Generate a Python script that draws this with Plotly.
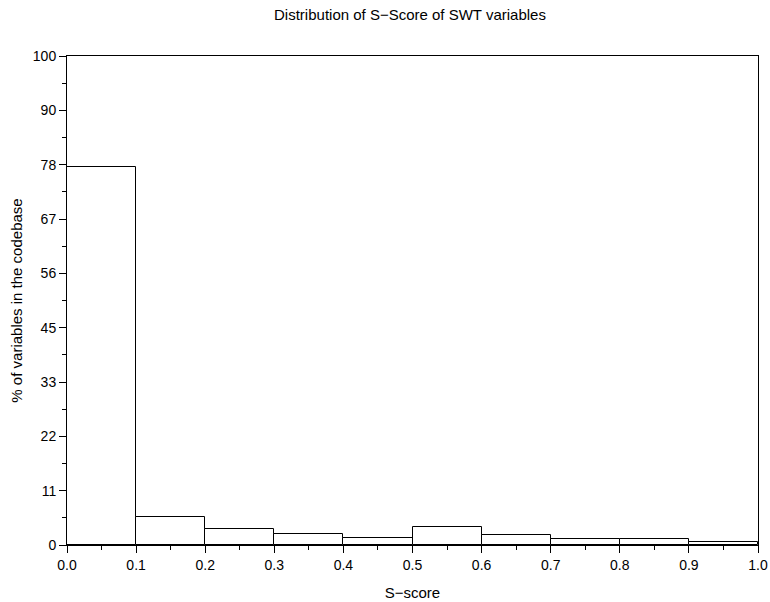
import plotly.graph_objects as go

bin_left = [0.0, 0.1, 0.2, 0.3, 0.4, 0.5, 0.6, 0.7, 0.8, 0.9]
percent = [77.3, 5.7, 3.2, 2.3, 1.4, 3.7, 2.1, 1.3, 1.15, 0.55]
y_tick_labels = ["0", "11", "22", "33", "45", "56", "67", "78", "90", "100"]
x_tick_labels = ["0.0", "0.1", "0.2", "0.3", "0.4", "0.5", "0.6", "0.7", "0.8", "0.9", "1.0"]

bin_width = 0.1
centers = [b + bin_width / 2 for b in bin_left]
y_tick_vals = [i * 100 / 9 for i in range(len(y_tick_labels))]
x_tick_vals = [i / 10 for i in range(len(x_tick_labels))]

font = "Liberation Sans, Arial, sans-serif"
W, H = 770, 602

fig = go.Figure(go.Bar(
    x=centers, y=percent, width=[bin_width] * len(centers),
    marker=dict(color="white", line=dict(color="black", width=1)),
))

fig.update_layout(
    width=W, height=H,
    margin=dict(l=67, r=12, t=56, b=57, autoexpand=False),
    paper_bgcolor="white", plot_bgcolor="white",
    showlegend=False,
    font=dict(family=font, size=14, color="black"),
    title=dict(text="Distribution of S\u2212Score of SWT variables", x=410 / W, xanchor="center",
               y=1 - 15 / H, yanchor="middle", font=dict(size=15, family=font)),
    bargap=0,
)

fig.update_xaxes(
    range=[0, 1], tickvals=x_tick_vals, ticktext=x_tick_labels,
    ticks="outside", ticklen=7, tickwidth=1, tickcolor="black",
    minor=dict(dtick=0.05, tick0=0, ticks="outside", ticklen=4, tickcolor="black", tickwidth=1),
    showline=True, linecolor="black", linewidth=1, mirror=True,
    showgrid=False, zeroline=False, automargin=False,
    title=dict(text="S\u2212score", font=dict(size=15), standoff=15),
)
fig.update_yaxes(
    range=[0, 100], tickvals=y_tick_vals, ticktext=y_tick_labels,
    ticks="outside", ticklen=7, tickwidth=1, tickcolor="black",
    minor=dict(dtick=100 / 18, tick0=0, ticks="outside", ticklen=4, tickcolor="black", tickwidth=1),
    showline=True, linecolor="black", linewidth=1, mirror=True,
    showgrid=False, zeroline=False, automargin=False,
    title=dict(text="% of variables in the codebase", font=dict(size=15), standoff=6),
)

fig.write_html(
    "out.html",
    config={"displayModeBar": False},
    post_script="document.body.style.margin='0';document.body.style.overflow='hidden';",
)
